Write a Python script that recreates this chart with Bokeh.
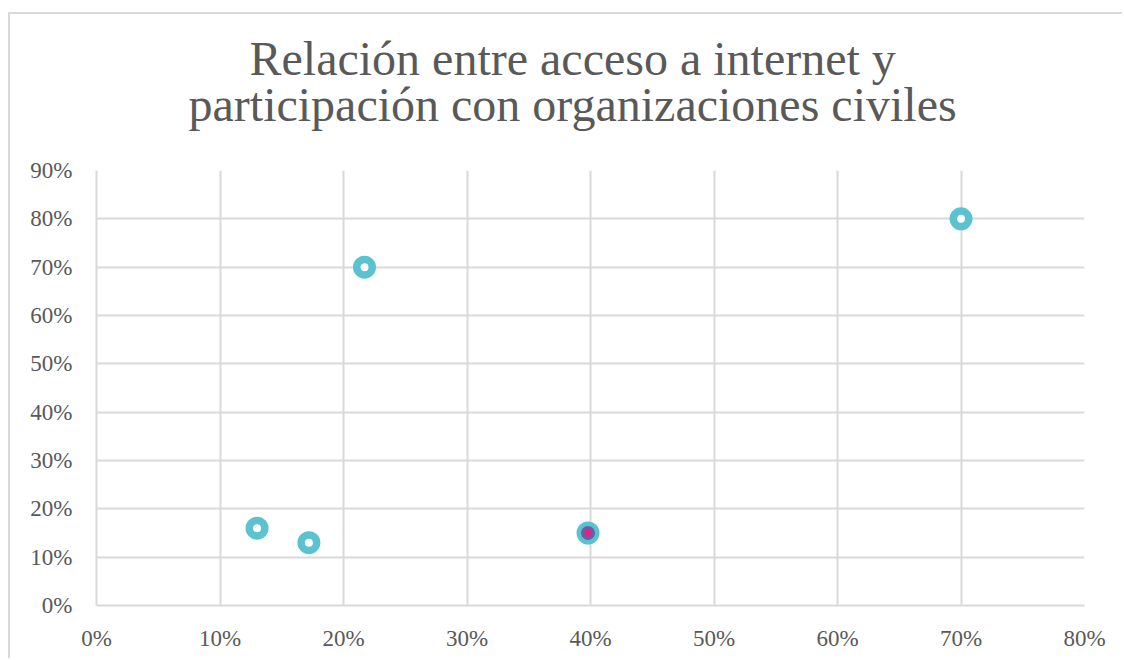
from bokeh.plotting import figure
from bokeh.models import Title, NumeralTickFormatter, FixedTicker, Range1d
from bokeh.embed import file_html
from bokeh.resources import INLINE

# data
acceso = [0.13, 0.172, 0.217, 0.398, 0.70]
participacion = [0.16, 0.13, 0.70, 0.15, 0.80]
resaltado_x = [0.398]
resaltado_y = [0.15]
x_ticks = [0, 0.1, 0.2, 0.3, 0.4, 0.5, 0.6, 0.7, 0.8]
y_ticks = [0, 0.1, 0.2, 0.3, 0.4, 0.5, 0.6, 0.7, 0.8, 0.9]
title_lines = ["Relación entre acceso a internet y", "participación con organizaciones civiles"]

FONT = "Liberation Serif"
GRAY = "#595959"
GRID = "#d9d9d9"
CYAN = "#5bc2d0"

W, H = 1114, 646
p = figure(width=W, height=H, output_backend="svg", toolbar_location=None,
           x_range=Range1d(0, 0.8), y_range=Range1d(0, 0.9),
           min_border_left=86, min_border_right=40, min_border_top=156, min_border_bottom=55,
           styles={"border-top": "2px solid #d9d9d9", "border-left": "2px solid #d9d9d9",
                   "margin-top": "12px", "margin-left": "8px"})
p.outline_line_color = None
p.background_fill_color = "white"
p.border_fill_color = "white"

for ax in (p.xaxis, p.yaxis):
    ax.major_tick_line_color = None
    ax.minor_tick_line_color = None
    ax.axis_line_color = GRID
    ax.axis_line_width = 2
    ax.major_label_text_font = FONT
    ax.major_label_text_font_size = "23px"
    ax.major_label_text_color = GRAY
    ax.formatter = NumeralTickFormatter(format="0%")
p.xaxis.ticker = FixedTicker(ticks=x_ticks)
p.yaxis.ticker = FixedTicker(ticks=y_ticks)
p.xaxis.major_label_standoff = 14
p.yaxis.major_label_standoff = 18

p.xgrid.ticker = FixedTicker(ticks=x_ticks)
p.ygrid.ticker = FixedTicker(ticks=y_ticks)
p.grid.grid_line_color = GRID
p.grid.grid_line_width = 2

p.scatter(acceso, participacion, size=15.5, fill_color="white", line_color=CYAN, line_width=7.5)
p.scatter(resaltado_x, resaltado_y, size=10.5, fill_color="#e2227f", line_color="#6a5ea8", line_width=3.5)

p.title = None
p.add_layout(Title(text=title_lines[1], align="left", offset=92, standoff=80,
                   text_font=FONT, text_font_size="48px", text_color=GRAY,
                   text_font_style="normal"), "above")
p.add_layout(Title(text=title_lines[0], align="left", offset=153, standoff=-98,
                   text_font=FONT, text_font_size="48px", text_color=GRAY,
                   text_font_style="normal"), "above")

open("out.html", "w").write(file_html(p, INLINE))
